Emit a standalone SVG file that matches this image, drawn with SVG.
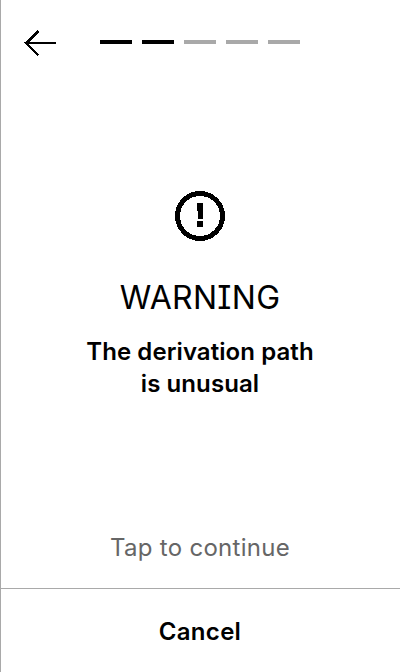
<svg xmlns="http://www.w3.org/2000/svg" width="400" height="672" viewBox="0 0 400 672">
<style>
text{font-family:Inter,"Liberation Sans",sans-serif;text-anchor:middle;font-feature-settings:"cv08" 1}
.b{font-weight:600;font-size:24px;fill:#000;letter-spacing:.08px}
.on{fill:#000}.off{fill:#a9a9a9}
.px{shape-rendering:crispEdges}
</style>
<rect width="400" height="672" fill="#fff"/>
<rect x="0" y="0" width="1" height="672" fill="#a9a9a9"/>
<rect x="0" y="588" width="400" height="1" fill="#a9a9a9"/>
<g id="back"><path class="px" d="M56 43H26M38.500 31 26 43 38.500 55.500" fill="none" stroke="#000" stroke-width="2.800"/></g>
<g id="progress">
<rect class="on" x="100" y="40" width="32" height="4"/>
<rect class="on" x="142" y="40" width="32" height="4"/>
<rect class="off" x="184" y="40" width="32" height="4"/>
<rect class="off" x="226" y="40" width="32" height="4"/>
<rect class="off" x="268" y="40" width="32" height="4"/>
</g>
<g id="icon">
<circle class="px" cx="200" cy="216" r="22.500" fill="none" stroke="#000" stroke-width="5"/>
<path class="px" d="M197 203H203.500L202.500 219H198Z" fill="#000"/>
<rect class="px" x="197" y="221" width="6" height="6" fill="#000"/>
</g>
<g id="title"><text x="200" y="309" font-size="32" fill="#000" letter-spacing=".3">WARNING</text></g>
<g id="message">
<text class="b" x="200" y="360">The derivation path</text>
<text class="b" x="200" y="392">is unusual</text>
</g>
<g id="hint"><text x="200" y="556" font-size="24" fill="#666" letter-spacing=".3">Tap to continue</text></g>
<g id="cancel"><text class="b" x="200" y="640" style="letter-spacing:.3px">Cancel</text></g>
</svg>
